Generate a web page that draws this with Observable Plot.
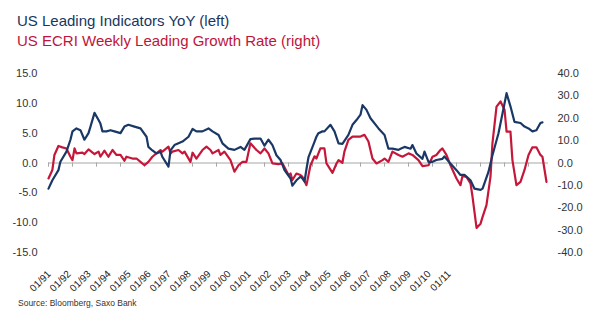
<!DOCTYPE html>
<html><head><meta charset="utf-8">
<script src="https://cdn.jsdelivr.net/npm/d3@7"></script>
<script src="https://cdn.jsdelivr.net/npm/@observablehq/plot@0.6"></script>
<style>
body{margin:0;background:#fff;}
#wrap{position:relative;width:612px;height:327px;overflow:hidden;font-family:"Liberation Sans",Arial,sans-serif;}
#wrap svg{position:absolute;left:0;top:0;}
.t{position:absolute;left:17px;font-size:15px;white-space:nowrap;line-height:normal;}
#t1{top:12px;color:#17375e;}
#t2{top:32px;color:#c0143c;}
#src{position:absolute;left:18px;top:298px;font-size:8.5px;color:#333;white-space:nowrap;}
</style></head>
<body>
<div id="wrap">
  <div id="chart"></div>
  <div id="labels"></div>
  <div class="t" id="t1">US Leading Indicators YoY (left)</div>
  <div class="t" id="t2">US ECRI Weekly Leading Growth Rate (right)</div>
  <div id="src">Source: Bloomberg, Saxo Bank</div>
</div>
<script>
const blueDates = ["1991-01","1991-03","1991-06","1991-07","1991-10","1991-12","1992-01","1992-03","1992-05","1992-07","1992-09","1992-10","1992-12","1993-02","1993-03","1993-04","1993-06","1993-08","1993-10","1994-01","1994-03","1994-05","1994-08","1994-11","1995-02","1995-03","1995-05","1995-07","1995-09","1995-10","1996-01","1996-02","1996-04","1996-08","1996-11","1997-01","1997-03","1997-06","1997-09","1997-11","1998-02","1998-04","1998-07","1998-10","1999-01","1999-03","1999-06","1999-08","1999-11","2000-01","2000-03","2000-05","2000-07","2000-09","2000-11","2001-02","2001-03","2001-05","2001-07","2001-08","2001-09","2001-10","2001-11","2002-01","2002-02","2002-03","2002-04","2002-06","2002-07","2002-10","2002-12","2003-02","2003-04","2003-07","2003-09","2003-11","2004-01","2004-02","2004-04","2004-06","2004-10","2005-01","2005-03","2005-05","2005-08","2005-09","2005-11","2006-02","2006-03","2006-05","2006-08","2006-09","2006-11","2007-01","2007-03","2007-06","2007-07","2007-10","2008-01","2008-03","2008-05","2008-08","2008-10","2009-01","2009-02","2009-05","2009-07","2009-10","2009-12","2010-02","2010-04","2010-06","2010-09","2010-11","2011-01","2011-03","2011-05","2011-07","2011-08"];
const blueValues = [-4.3,-2.9,-1.2,0.2,1.9,3.9,5.3,5.8,5.5,3.9,5.0,6.1,8.4,7.2,6.6,5.3,5.3,5.5,5.3,5.0,6.1,6.4,6.1,5.8,4.4,2.7,2.1,1.6,1.9,1.0,-0.6,2.1,3.0,3.6,4.4,5.7,5.3,5.3,5.8,5.3,4.7,3.3,2.4,2.2,2.7,2.2,4.0,4.1,4.1,2.9,3.9,3.0,1.3,0.5,-1.2,-2.6,-3.8,-2.9,-2.3,-2.6,-3.1,-1.0,1.0,2.7,3.6,4.4,5.0,5.3,5.3,6.4,5.3,3.3,3.2,4.7,6.4,7.2,8.1,9.7,8.9,7.5,5.8,4.7,2.4,2.4,2.2,2.4,2.7,2.4,3.0,1.6,0.7,1.9,0.2,0.2,0.5,0.7,1.1,-0.1,-1.2,-2.0,-2.0,-2.9,-4.3,-4.5,-4.3,-1.5,1.3,5.0,8.3,11.7,9.5,6.9,6.7,6.1,5.8,5.3,5.5,6.7,6.8];
const redDates = ["1991-01","1991-03","1991-04","1991-06","1991-08","1991-10","1991-12","1992-01","1992-02","1992-03","1992-06","1992-07","1992-09","1992-12","1993-02","1993-03","1993-05","1993-07","1993-08","1993-09","1993-11","1994-01","1994-03","1994-04","1994-07","1994-09","1994-11","1995-01","1995-03","1995-05","1995-07","1995-09","1995-10","1996-01","1996-02","1996-03","1996-06","1996-08","1996-09","1996-12","1997-01","1997-03","1997-06","1997-08","1997-10","1997-11","1998-02","1998-03","1998-05","1998-08","1998-10","1998-12","1999-02","1999-04","1999-06","1999-09","1999-11","2000-01","2000-03","2000-05","2000-08","2000-10","2001-01","2001-02","2001-03","2001-05","2001-07","2001-08","2001-10","2001-12","2002-02","2002-03","2002-05","2002-07","2002-08","2002-11","2003-01","2003-02","2003-04","2003-05","2003-07","2003-09","2004-01","2004-03","2004-05","2004-07","2004-09","2004-12","2005-01","2005-03","2005-05","2005-08","2005-10","2006-01","2006-03","2006-06","2006-08","2006-11","2007-01","2007-03","2007-05","2007-06","2007-08","2007-10","2008-01","2008-03","2008-04","2008-06","2008-08","2008-09","2008-11","2009-01","2009-02","2009-04","2009-06","2009-07","2009-09","2009-11","2010-01","2010-02","2010-04","2010-05","2010-07","2010-09","2010-11","2011-01","2011-03","2011-05","2011-07","2011-08","2011-10"];
const redValues = [-6.9,-3.1,3.6,7.6,7.0,6.5,2.8,1.3,6.5,4.3,4.6,4.0,6.1,4.0,5.1,2.8,5.5,2.8,4.3,5.8,3.6,3.6,1.0,2.8,2.0,2.0,0.5,-1.0,0.5,2.8,4.3,5.8,5.1,7.3,4.3,5.1,5.8,4.3,5.1,0.5,4.6,2.0,5.8,7.3,5.8,4.3,5.8,3.6,5.1,1.3,-3.9,-1.0,0.5,0.5,8.8,5.8,4.3,6.5,4.3,-0.2,-0.5,-0.2,-5.4,-4.7,-7.6,-4.7,-5.4,-6.2,-9.9,-1.0,3.0,2.0,6.5,6.5,-0.2,-4.4,-0.2,1.3,0.1,5.1,10.3,11.8,11.8,12.6,9.6,2.0,-0.2,1.3,2.0,0.5,5.1,3.6,2.8,4.3,3.6,1.3,-1.4,-1.0,2.8,3.6,5.8,6.5,3.6,-1.0,-6.9,-9.9,-5.8,-6.2,-9.1,-15.1,-29.0,-27.1,-24.1,-18.8,-6.2,8.8,25.2,27.5,23.8,14.0,14.0,1.3,-9.9,-8.4,-3.1,3.6,7.0,7.0,3.6,2.8,-8.4];
const leftTicks = [-15, -10, -5, 0, 5, 10, 15];
const rightTicks = [-40, -30, -20, -10, 0, 10, 20, 30, 40];
const xLabels = ["01/91","01/92","01/93","01/94","01/95","01/96","01/97","01/98","01/99","01/00","01/01","01/02","01/03","01/04","01/05","01/06","01/07","01/08","01/09","01/10","01/11"];

const k = leftTicks[leftTicks.length - 1] / rightTicks[rightTicks.length - 1];
const blue = blueDates.map((d, i) => ({date: new Date(d + "-01"), v: blueValues[i]}));
const red = redDates.map((d, i) => ({date: new Date(d + "-01"), v: redValues[i]}));
const years = d3.utcYear.range(new Date("1991-01-01"), new Date("2011-06-01"));
const font = "Liberation Sans, Arial, sans-serif";

const chart = Plot.plot({
  width: 612, height: 327,
  marginTop: 73, marginBottom: 75, marginLeft: 48, marginRight: 64,
  style: {fontFamily: font, fontSize: "11px", color: "#333", background: "transparent"},
  x: {type: "utc", domain: [new Date("1991-01-01"), new Date("2011-11-01")], axis: null},
  y: {domain: [-15, 15]},
  marks: [
    Plot.axisY({ticks: leftTicks, tickSize: 0, tickPadding: 11, tickFormat: d => d.toFixed(1), label: null, fill: "#333"}),
    Plot.axisY({anchor: "right", ticks: rightTicks.map(v => v * k), tickSize: 0, tickPadding: 9, tickFormat: d => (d / k).toFixed(1), label: null, fill: "#333"}),
    Plot.ruleY([0], {stroke: "#a6a6a6", strokeWidth: 1}),
    Plot.ruleX(years, {x: d => d, y1: 0, y2: -0.7, stroke: "#a6a6a6", strokeWidth: 1}),
    Plot.lineY(red, {x: "date", y: d => d.v * k, stroke: "#c5173a", strokeWidth: 2.2}),
    Plot.lineY(blue, {x: "date", y: "v", stroke: "#1a3866", strokeWidth: 2.2})
  ]
});
document.getElementById("chart").appendChild(chart);

const labels = Plot.plot({
  width: 612, height: 327,
  marginTop: 269, marginBottom: 0, marginLeft: 41, marginRight: 161,
  style: {fontFamily: font, background: "transparent"},
  x: {type: "point", domain: xLabels, padding: 0, axis: null},
  marks: [
    Plot.text(xLabels, {x: d => d, text: d => d, rotate: -45, textAnchor: "end", frameAnchor: "top", fontSize: 10, fill: "#222"})
  ]
});
document.getElementById("labels").appendChild(labels);
</script>
</body></html>
